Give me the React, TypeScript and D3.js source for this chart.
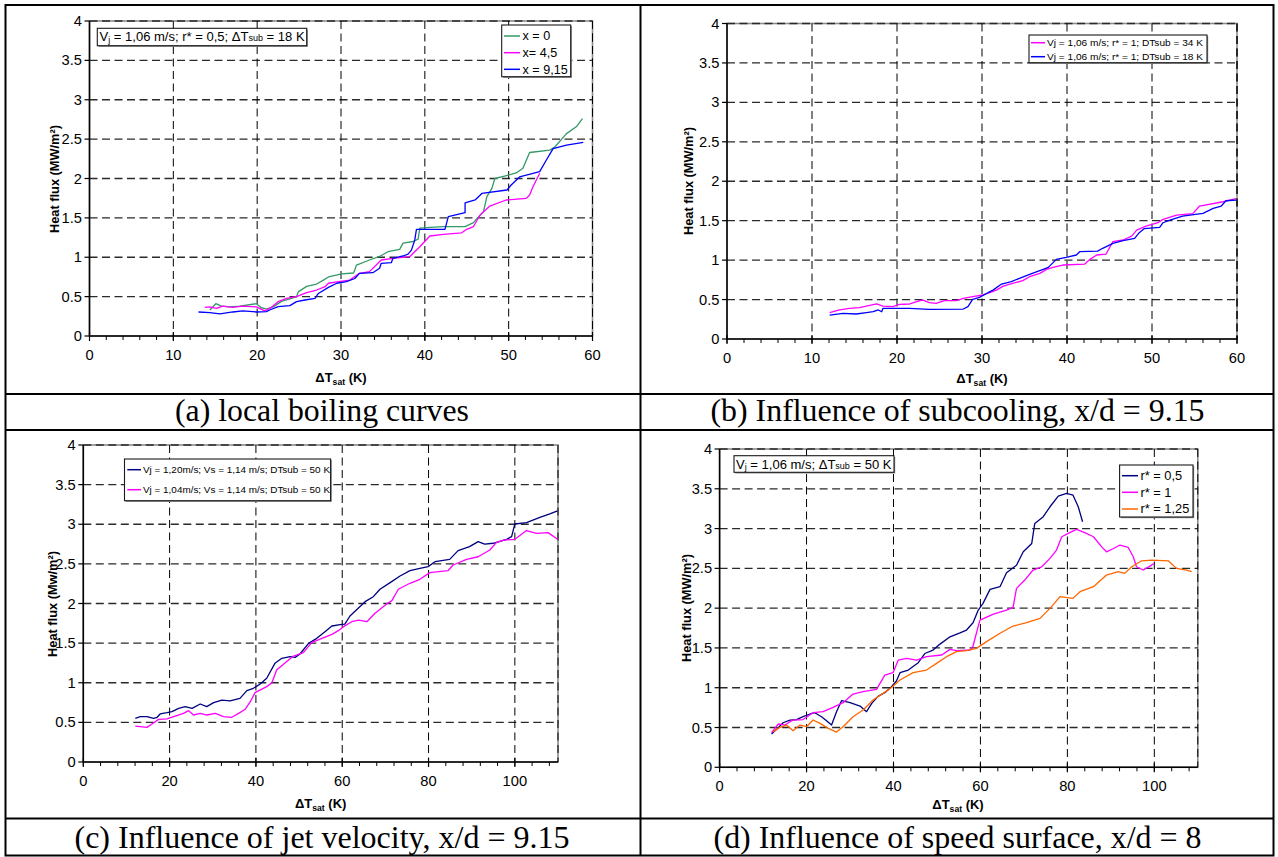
import React from 'react';
import * as d3 from 'd3';

type Pt = [number, number];

// ---------- DATA ----------
// Panel (a): local boiling curves
const aNames = ['x = 0', 'x= 4,5', 'x = 9,15'];
const aX0: Pt[] = [[14.35,0.33],[15.07,0.41],[15.75,0.38],[16.7,0.37],[17.9,0.38],[19.9,0.41],[20.5,0.36],[21.1,0.34],[21.9,0.37],[22.9,0.44],[23.9,0.47],[24.7,0.5],[24.9,0.56],[25.9,0.63],[27.1,0.66],[27.9,0.71],[28.5,0.75],[30.1,0.79],[31.5,0.8],[31.85,0.9],[33.4,0.965],[34.6,1.01],[35.6,1.07],[37.0,1.1],[37.4,1.18],[38.6,1.2],[39.2,1.23],[39.4,1.37],[40.6,1.38],[42.2,1.39],[44.8,1.39],[45.8,1.44],[46.2,1.49],[47.0,1.58],[47.4,1.77],[48.0,1.875],[48.35,2.0],[49.5,2.03],[50.9,2.07],[51.7,2.13],[52.5,2.33],[54.9,2.36],[55.5,2.4],[56.9,2.57],[58.1,2.66],[58.8,2.76]];
const aX45: Pt[] = [[13.75,0.364],[14.35,0.37],[15.15,0.35],[15.9,0.38],[17.1,0.364],[18.3,0.38],[19.9,0.37],[20.9,0.32],[21.7,0.364],[22.5,0.436],[23.5,0.478],[24.7,0.5],[25.9,0.55],[27.1,0.584],[28.1,0.626],[28.5,0.67],[29.7,0.69],[31.05,0.71],[32.2,0.796],[33.4,0.817],[34.8,0.965],[36.2,0.986],[38.2,1.007],[38.6,1.05],[39.4,1.134],[40.6,1.27],[42.2,1.29],[44.4,1.31],[45.0,1.355],[45.8,1.39],[46.6,1.536],[47.75,1.65],[49.7,1.727],[52.1,1.748],[52.5,1.79],[52.9,1.896],[53.7,2.066]];
const aX915: Pt[] = [[13.0,0.305],[14.35,0.296],[15.55,0.28],[17.1,0.305],[18.3,0.32],[19.9,0.305],[21.1,0.31],[21.5,0.33],[22.5,0.372],[23.9,0.385],[24.7,0.436],[25.7,0.457],[26.9,0.478],[27.3,0.54],[28.5,0.618],[29.5,0.67],[30.65,0.69],[31.65,0.73],[32.2,0.796],[33.8,0.804],[34.6,0.86],[34.8,0.923],[36.0,0.931],[36.2,0.986],[37.4,1.016],[38.0,1.04],[38.4,1.09],[38.8,1.22],[39.0,1.355],[42.4,1.355],[42.8,1.515],[44.8,1.566],[44.8,1.69],[46.0,1.727],[46.8,1.81],[49.8,1.854],[50.3,1.917],[51.3,2.02],[53.7,2.087],[54.5,2.235],[55.3,2.38],[56.9,2.425],[58.9,2.46]];

// Panel (b): influence of subcooling
const bNames = ['Vj = 1,06 m/s; r* = 1; DTsub = 34 K', 'Vj = 1,06 m/s; r* = 1; DTsub = 18 K'];
const bSub34: Pt[] = [[12.08,0.334],[13.25,0.368],[14.4,0.389],[15.6,0.397],[16.4,0.418],[17.6,0.444],[18.35,0.418],[19.5,0.41],[20.3,0.44],[21.5,0.444],[22.7,0.486],[23.05,0.494],[23.8,0.46],[24.6,0.452],[25.6,0.486],[27.0,0.486],[27.8,0.515],[28.9,0.537],[30.1,0.558],[30.9,0.587],[31.7,0.62],[32.5,0.67],[33.6,0.705],[34.8,0.74],[35.6,0.79],[36.8,0.832],[37.6,0.883],[38.35,0.908],[39.5,0.938],[42.1,0.95],[42.7,1.01],[43.5,1.065],[44.6,1.077],[45.4,1.234],[46.6,1.255],[47.6,1.305],[48.2,1.38],[49.3,1.43],[50.7,1.474],[51.3,1.517],[52.9,1.57],[54.8,1.59],[55.6,1.686],[58.35,1.74],[59.9,1.78]];
const bSub18: Pt[] = [[12.08,0.304],[13.65,0.325],[15.2,0.317],[16.4,0.334],[17.2,0.346],[17.8,0.368],[18.2,0.346],[18.35,0.389],[19.9,0.389],[21.5,0.389],[23.8,0.376],[27.8,0.38],[28.35,0.41],[28.9,0.503],[29.7,0.528],[30.7,0.587],[31.3,0.62],[32.3,0.697],[33.45,0.727],[34.4,0.769],[35.6,0.82],[37.2,0.883],[37.8,0.908],[38.75,1.01],[39.9,1.035],[41.1,1.065],[41.5,1.107],[43.6,1.115],[44.2,1.15],[45.4,1.212],[46.6,1.246],[47.96,1.276],[48.5,1.348],[49.1,1.4],[50.9,1.415],[51.3,1.474],[52.1,1.508],[53.6,1.559],[56.0,1.593],[57.2,1.656],[58.15,1.686],[58.7,1.753],[59.9,1.76]];

// Panel (c): influence of jet velocity
const cNames = ['Vj = 1,20m/s; Vs = 1,14 m/s; DTsub = 50 K', 'Vj = 1,04m/s; Vs = 1,14 m/s; DTsub = 50 K'];
const cVj120: Pt[] = [[12.05,0.551],[13.2,0.572],[14.75,0.572],[16.3,0.551],[17.1,0.564],[17.8,0.606],[19.4,0.622],[20.55,0.635],[22.1,0.677],[23.6,0.698],[25.2,0.677],[27.1,0.732],[28.6,0.698],[30.2,0.749],[32.1,0.782],[34.0,0.77],[36.3,0.803],[37.9,0.9],[39.4,0.93],[41.0,0.984],[42.5,1.056],[44.4,1.245],[46.0,1.308],[47.9,1.329],[49.1,1.32],[50.2,1.363],[52.2,1.497],[54.1,1.56],[56.0,1.645],[57.6,1.716],[59.5,1.733],[60.6,1.74],[61.8,1.842],[63.7,1.939],[65.3,2.023],[67.2,2.086],[68.75,2.18],[71.1,2.263],[73.4,2.347],[75.7,2.414],[78.0,2.444],[79.9,2.465],[81.5,2.528],[84.9,2.557],[86.85,2.667],[89.5,2.717],[91.5,2.78],[93.0,2.75],[95.0,2.76],[98.1,2.81],[99.25,2.843],[100.0,3.003],[102.7,3.02],[105.8,3.087],[108.1,3.13],[109.9,3.17]];
const cVj104: Pt[] = [[12.05,0.454],[14.75,0.437],[15.9,0.48],[17.45,0.538],[19.4,0.543],[20.9,0.572],[23.2,0.614],[24.4,0.648],[25.55,0.593],[27.1,0.614],[28.6,0.593],[30.6,0.614],[32.5,0.572],[34.4,0.564],[36.0,0.614],[37.5,0.665],[38.7,0.761],[39.8,0.875],[42.5,0.951],[43.7,1.001],[44.8,1.16],[46.8,1.253],[48.7,1.337],[51.0,1.38],[52.9,1.506],[55.3,1.56],[57.6,1.611],[59.1,1.657],[60.3,1.708],[62.2,1.77],[63.8,1.79],[65.7,1.77],[67.6,1.876],[70.3,1.994],[71.5,2.036],[73.0,2.18],[75.7,2.255],[78.0,2.305],[80.3,2.39],[84.5,2.414],[85.7,2.486],[88.8,2.557],[91.5,2.59],[94.2,2.675],[95.7,2.768],[97.3,2.8],[100.0,2.81],[102.7,2.92],[105.0,2.886],[107.7,2.894],[109.9,2.81]];

// Panel (d): influence of speed surface
const dNames = ['r* = 0,5', 'r* = 1', 'r* = 1,25'];
const dR05: Pt[] = [[11.95,0.418],[13.1,0.477],[14.6,0.56],[16.2,0.594],[17.7,0.6],[19.2,0.636],[20.8,0.67],[21.9,0.686],[23.45,0.636],[24.6,0.586],[25.75,0.531],[26.9,0.699],[28.05,0.837],[30.0,0.812],[32.3,0.77],[33.8,0.699],[35.0,0.803],[36.5,0.895],[38.0,0.937],[39.55,1.013],[40.7,1.088],[41.5,1.189],[43.4,1.222],[45.7,1.314],[47.2,1.43],[49.1,1.473],[50.7,1.548],[53.0,1.64],[55.3,1.69],[56.8,1.725],[58.3,1.817],[59.5,1.976],[60.6,2.06],[62.2,2.236],[64.5,2.27],[66.0,2.445],[68.3,2.54],[69.85,2.708],[71.8,2.813],[72.5,3.065],[74.45,3.149],[76.0,3.274],[77.9,3.408],[79.8,3.441],[81.3,3.42],[82.5,3.274],[83.5,3.086]];
const dR1: Pt[] = [[11.95,0.435],[13.5,0.544],[15.0,0.531],[16.9,0.594],[19.2,0.6],[21.5,0.686],[23.8,0.699],[26.1,0.753],[28.4,0.812],[30.7,0.921],[33.0,0.95],[36.1,0.979],[38.0,1.159],[39.9,1.189],[41.1,1.348],[43.0,1.369],[45.3,1.348],[47.6,1.39],[51.1,1.411],[53.0,1.482],[54.5,1.465],[57.6,1.474],[58.3,1.524],[59.5,1.775],[59.9,1.85],[63.0,1.926],[66.0,1.976],[67.5,2.01],[68.3,2.248],[70.2,2.353],[72.1,2.479],[74.1,2.52],[76.0,2.625],[77.5,2.73],[78.7,2.897],[80.2,2.94],[82.1,2.99],[84.0,2.948],[86.0,2.897],[87.9,2.77],[89.0,2.708],[90.6,2.75],[92.1,2.793],[94.0,2.763],[95.15,2.646],[95.9,2.52],[97.45,2.479],[99.0,2.528],[99.9,2.562]];
const dR125: Pt[] = [[12.3,0.448],[13.9,0.502],[15.4,0.531],[16.9,0.46],[18.5,0.531],[20.0,0.51],[21.5,0.594],[23.1,0.552],[25.0,0.489],[26.9,0.443],[28.4,0.51],[30.7,0.636],[33.0,0.72],[35.3,0.845],[37.6,0.929],[39.55,1.004],[41.5,1.097],[44.5,1.189],[47.6,1.222],[49.9,1.306],[52.2,1.39],[54.5,1.453],[56.8,1.465],[59.1,1.495],[61.4,1.579],[64.5,1.684],[67.5,1.775],[70.6,1.817],[73.7,1.871],[76.0,1.997],[78.3,2.144],[81.3,2.123],[82.9,2.207],[86.0,2.27],[89.0,2.416],[91.7,2.458],[93.2,2.437],[94.8,2.52],[97.1,2.595],[99.4,2.604],[103.2,2.595],[105.1,2.5],[107.4,2.479],[108.6,2.458]];

const yTickValues = [0, 0.5, 1, 1.5, 2, 2.5, 3, 3.5, 4];
const yTickLabels = ['0', '0.5', '1', '1.5', '2', '2.5', '3', '3.5', '4'];
const xTicks60 = [0, 10, 20, 30, 40, 50, 60];
const xTicks110 = [0, 20, 40, 60, 80, 100];
const captions = [
  '(a) local boiling curves',
  '(b) Influence of subcooling, x/d = 9.15',
  '(c) Influence of jet velocity, x/d = 9.15',
  '(d) Influence of speed surface, x/d = 8',
];

// ---------- STYLE / LAYOUT ----------
const SANS = "'Liberation Sans', Arial, Helvetica, sans-serif";
const SERIF = "'Liberation Serif', 'Times New Roman', Times, serif";
const SX = 1.05;
const GREEN = '#339966';
const MAGENTA = '#FF00FF';
const BLUE = '#0000FF';
const NAVY = '#000080';
const ORANGE = '#FF6600';

type Series = { data: Pt[]; color: string; name: string };
type Legend = {
  x: number; y: number; w: number; h: number; rows: number[];
  lx1: number; lx2: number; tx: number; size: number; textLen?: number;
};
type Note = { x: number; y: number; w: number; h: number; tx: number; ty: number; parts: 'a' | 'd' };
type PanelCfg = {
  left: number; right: number; top: number; bottom: number;
  xMax: number; xTicks: number[]; xMinor: number;
  series: Series[]; yTitle: string; yTitleX: number; yTitleY: number;
  xTitleX: number; xTitleY: number; legend: Legend; note?: Note;
};

const panels: PanelCfg[] = [
  {
    left: 89.5, right: 592.5, top: 21, bottom: 336, xMax: 60, xTicks: xTicks60, xMinor: 2,
    series: [
      { data: aX0, color: GREEN, name: aNames[0] },
      { data: aX45, color: MAGENTA, name: aNames[1] },
      { data: aX915, color: BLUE, name: aNames[2] },
    ],
    yTitle: 'Heat flux (MW/m²)', yTitleX: 58.5, yTitleY: 179, xTitleX: 341, xTitleY: 381.5,
    legend: { x: 501.7, y: 25, w: 69, h: 51.7, rows: [36, 52.7, 69.3], lx1: 504, lx2: 520, tx: 522.5, size: 12 },
    note: { x: 97.3, y: 28.3, w: 209.4, h: 17.4, tx: 99.5, ty: 41.3, parts: 'a' },
  },
  {
    left: 727, right: 1237, top: 23.5, bottom: 339, xMax: 60, xTicks: xTicks60, xMinor: 2,
    series: [
      { data: bSub34, color: MAGENTA, name: bNames[0] },
      { data: bSub18, color: BLUE, name: bNames[1] },
    ],
    yTitle: 'Heat flux (MW/m²)', yTitleX: 692.5, yTitleY: 181, xTitleX: 982, xTitleY: 382.5,
    legend: { x: 1029, y: 35, w: 178, h: 27.7, rows: [42.7, 56.7], lx1: 1031, lx2: 1045, tx: 1047, size: 9.8, textLen: 156 },
  },
  {
    left: 83.3, right: 558, top: 445, bottom: 762, xMax: 110, xTicks: xTicks110, xMinor: 4,
    series: [
      { data: cVj120, color: NAVY, name: cNames[0] },
      { data: cVj104, color: MAGENTA, name: cNames[1] },
    ],
    yTitle: 'Heat flux (Mw/m²)', yTitleX: 56.5, yTitleY: 604, xTitleX: 320.7, xTitleY: 808,
    legend: { x: 124.5, y: 459, w: 206.1, h: 41.7, rows: [469.7, 489.7], lx1: 127.3, lx2: 141, tx: 143, size: 9.8, textLen: 187 },
  },
  {
    left: 719.6, right: 1197.8, top: 449, bottom: 767.3, xMax: 110, xTicks: xTicks110, xMinor: 4,
    series: [
      { data: dR05, color: NAVY, name: dNames[0] },
      { data: dR1, color: MAGENTA, name: dNames[1] },
      { data: dR125, color: ORANGE, name: dNames[2] },
    ],
    yTitle: 'Heat flux (MW/m²)', yTitleX: 690.5, yTitleY: 608, xTitleX: 958, xTitleY: 808.5,
    legend: { x: 1119.6, y: 465, w: 73.4, h: 52, rows: [475.7, 492.3, 509], lx1: 1122, lx2: 1138, tx: 1140.5, size: 12.2 },
    note: { x: 734, y: 455.7, w: 160, h: 16.6, tx: 736, ty: 468.8, parts: 'd' },
  },
];

const captionPos = [
  { cx: 322, y: 420.5, w: 294 },
  { cx: 957.5, y: 420.5, w: 494 },
  { cx: 322, y: 847.5, w: 495 },
  { cx: 957.5, y: 847.5, w: 488 },
];

function SText(props: {
  x: number; y: number; size: number; anchor?: string; weight?: number | string;
  sx?: number; family?: string; children: React.ReactNode; textLength?: number;
}) {
  const { x, y, size, anchor = 'start', weight = 400, sx = SX, family = SANS, children, textLength } = props;
  return (
    <text
      transform={`translate(${x},${y}) scale(${textLength ? 1 : sx},1)`}
      fontSize={size}
      fontFamily={family}
      fontWeight={weight}
      textAnchor={anchor as any}
      fill="#000"
      textLength={textLength}
      lengthAdjust={textLength ? 'spacingAndGlyphs' : undefined}
    >
      {children}
    </text>
  );
}

function Box({ x, y, w, h }: { x: number; y: number; w: number; h: number }) {
  return (
    <g>
      <rect x={x + 1.2} y={y + 1.2} width={w} height={h} fill="#8a8a8a" />
      <rect x={x} y={y} width={w} height={h} fill="#fff" stroke="#1a1a1a" strokeWidth={1.1} />
    </g>
  );
}

function Panel({ cfg }: { cfg: PanelCfg }) {
  const x = d3.scaleLinear().domain([0, cfg.xMax]).range([cfg.left, cfg.right]);
  const y = d3.scaleLinear().domain([0, 4]).range([cfg.bottom, cfg.top]);
  const line = d3.line<Pt>().x((d) => x(d[0])).y((d) => y(d[1]));
  const minors = d3.range(0, cfg.xMax + 1e-6, cfg.xMinor);
  const gridX = [...cfg.xTicks.filter((v) => v > 0), cfg.xMax];
  const lg = cfg.legend;
  return (
    <g>
      <rect x={cfg.left} y={cfg.top} width={cfg.right - cfg.left} height={cfg.bottom - cfg.top}
        fill="#fff" stroke="#8c8c8c" strokeWidth={1.6} />
      {yTickValues.filter((v) => v > 0).map((v) => (
        <line key={'h' + v} x1={cfg.left} x2={cfg.right} y1={y(v)} y2={y(v)}
          stroke="#2a2a2a" strokeWidth={1.3} strokeDasharray="8,4.5" />
      ))}
      {gridX.map((v) => (
        <line key={'v' + v} x1={x(v)} x2={x(v)} y1={cfg.top} y2={cfg.bottom}
          stroke="#000" strokeWidth={1} strokeDasharray="8,4.5" />
      ))}
      <line x1={cfg.left} x2={cfg.left} y1={cfg.top} y2={cfg.bottom} stroke="#000" strokeWidth={1.5} />
      <line x1={cfg.left} x2={cfg.right} y1={cfg.bottom} y2={cfg.bottom} stroke="#000" strokeWidth={1.5} />
      {minors.map((v) => (
        <line key={'m' + v} x1={x(v)} x2={x(v)} y1={cfg.bottom} y2={cfg.bottom + 4} stroke="#000" strokeWidth={1} />
      ))}
      {cfg.xTicks.map((v) => (
        <line key={'M' + v} x1={x(v)} x2={x(v)} y1={cfg.bottom - 4} y2={cfg.bottom + 5} stroke="#000" strokeWidth={1.2} />
      ))}
      {yTickValues.map((v) => (
        <line key={'yt' + v} x1={cfg.left - 5} x2={cfg.left} y1={y(v)} y2={y(v)} stroke="#000" strokeWidth={1.2} />
      ))}
      {yTickValues.map((v, i) => (
        <SText key={'yl' + v} x={cfg.left - 7.5} y={y(v) + 5} size={14} anchor="end">{yTickLabels[i]}</SText>
      ))}
      {cfg.xTicks.map((v) => (
        <SText key={'xl' + v} x={x(v)} y={cfg.bottom + 23.6} size={14} anchor="middle">{String(v)}</SText>
      ))}
      <text transform={`translate(${cfg.yTitleX},${cfg.yTitleY}) rotate(-90)`} fontSize={12.8}
        fontFamily={SANS} fontWeight={700} textAnchor="middle">{cfg.yTitle}</text>
      <SText x={cfg.xTitleX} y={cfg.xTitleY} size={12.4} weight={700} anchor="middle">
        ΔT<tspan fontSize={8.2} dy={3}>sat</tspan><tspan dy={-3}> (K)</tspan>
      </SText>
      {cfg.series.map((s, i) => (
        <path key={'s' + i} d={line(s.data) || ''} fill="none" stroke={s.color} strokeWidth={1.3}
          strokeLinejoin="round" />
      ))}
      <Box x={lg.x} y={lg.y} w={lg.w} h={lg.h} />
      {cfg.series.map((s, i) => (
        <g key={'lg' + i}>
          <line x1={lg.lx1} x2={lg.lx2} y1={lg.rows[i]} y2={lg.rows[i]} stroke={s.color} strokeWidth={1.5} />
          {lg.textLen ? (
            <SText x={lg.tx} y={lg.rows[i] + lg.size * 0.36} size={lg.size} textLength={lg.textLen}>{s.name}</SText>
          ) : (
            <SText x={lg.tx} y={lg.rows[i] + lg.size * 0.36} size={lg.size}>{s.name}</SText>
          )}
        </g>
      ))}
      {cfg.note && (
        <g>
          <Box x={cfg.note.x} y={cfg.note.y} w={cfg.note.w} h={cfg.note.h} />
          {cfg.note.parts === 'a' ? (
            <SText x={cfg.note.tx} y={cfg.note.ty} size={12.3} sx={1.06}>
              V<tspan fontSize={8.5} dy={1.5}>j</tspan><tspan dy={-1.5}> = 1,06 m/s; r* = 0,5; ΔT</tspan>
              <tspan fontSize={8.5}>sub</tspan><tspan> = 18 K</tspan>
            </SText>
          ) : (
            <SText x={cfg.note.tx} y={cfg.note.ty} size={12.3} sx={1.06}>
              V<tspan fontSize={8.5} dy={1.5}>j</tspan><tspan dy={-1.5}> = 1,06 m/s; ΔT</tspan>
              <tspan fontSize={8.5}>sub</tspan><tspan> = 50 K</tspan>
            </SText>
          )}
        </g>
      )}
    </g>
  );
}

export default function App() {
  return (
    <svg width={1278} height={857} viewBox="0 0 1278 857"
      style={{ position: 'absolute', left: 0, top: 0, display: 'block', background: '#fff' }}>
      <rect x={0} y={0} width={1278} height={857} fill="#fff" />
      {panels.map((p, i) => <Panel key={i} cfg={p} />)}
      {captions.map((c, i) => (
        <text key={'c' + i} x={captionPos[i].cx} y={captionPos[i].y} fontSize={31} fontFamily={SERIF}
          textAnchor="middle" textLength={captionPos[i].w} lengthAdjust="spacingAndGlyphs">{c}</text>
      ))}
      <g stroke="#000" strokeWidth={2} fill="none">
        <rect x={5.5} y={5} width={1268} height={850.5} />
        <line x1={640.5} x2={640.5} y1={5} y2={855.5} />
        <line x1={5.5} x2={1273.5} y1={394} y2={394} />
        <line x1={5.5} x2={1273.5} y1={430} y2={430} />
        <line x1={5.5} x2={1273.5} y1={818.5} y2={818.5} />
      </g>
    </svg>
  );
}
